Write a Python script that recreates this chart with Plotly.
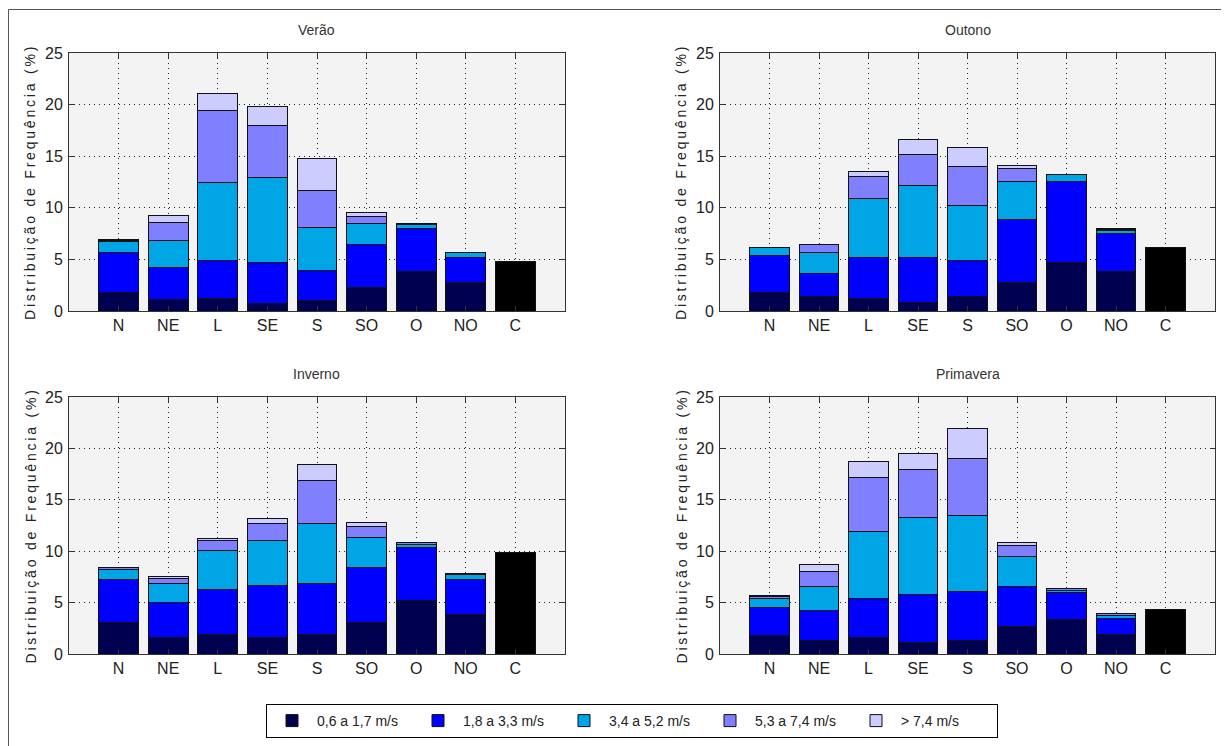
import plotly.graph_objects as go

# ---------------- data ----------------
categories = ["N", "NE", "L", "SE", "S", "SO", "O", "NO", "C"]
directions = categories[:8]
speed_classes = ["0,6 a 1,7 m/s", "1,8 a 3,3 m/s", "3,4 a 5,2 m/s", "5,3 a 7,4 m/s", "> 7,4 m/s"]
season_titles = ["Verão", "Outono", "Inverno", "Primavera"]

verao_c1 = [1.80, 1.10, 1.26, 0.77, 1.03, 2.29, 3.84, 2.74]
verao_c2 = [3.88, 3.16, 3.64, 3.97, 2.94, 4.16, 4.16, 2.45]
verao_c3 = [1.03, 2.61, 7.52, 8.20, 4.13, 2.00, 0.42, 0.44]
verao_c4 = [0.15, 1.71, 6.97, 5.03, 3.55, 0.71, 0.05, 0.05]
verao_c5 = [0.08, 0.65, 1.67, 1.87, 3.09, 0.39, 0.02, 0.02]
verao_calm = 4.80

outono_c1 = [1.81, 1.39, 1.23, 0.87, 1.39, 2.74, 4.74, 3.84]
outono_c2 = [3.54, 2.26, 3.93, 4.29, 3.48, 6.16, 7.84, 3.68]
outono_c3 = [0.80, 2.00, 5.71, 6.97, 5.39, 3.68, 0.60, 0.25]
outono_c4 = [0.02, 0.80, 2.19, 3.06, 3.71, 1.23, 0.03, 0.15]
outono_c5 = [0.00, 0.03, 0.46, 1.42, 1.87, 0.32, 0.02, 0.08]
outono_calm = 6.16

inverno_c1 = [3.03, 1.65, 1.94, 1.65, 1.94, 3.03, 5.23, 3.81]
inverno_c2 = [4.26, 3.38, 4.29, 5.06, 4.90, 5.39, 5.16, 3.48]
inverno_c3 = [0.94, 1.81, 3.87, 4.29, 5.87, 2.90, 0.22, 0.45]
inverno_c4 = [0.15, 0.50, 0.90, 1.68, 4.19, 1.07, 0.20, 0.05]
inverno_c5 = [0.07, 0.20, 0.20, 0.55, 1.55, 0.38, 0.06, 0.02]
inverno_calm = 9.87

primavera_c1 = [1.77, 1.32, 1.61, 1.16, 1.35, 2.68, 3.35, 1.94]
primavera_c2 = [2.75, 2.94, 3.81, 4.61, 4.75, 3.87, 2.59, 1.51]
primavera_c3 = [0.87, 2.26, 6.52, 7.55, 7.38, 2.90, 0.22, 0.29]
primavera_c4 = [0.20, 1.54, 5.22, 4.62, 5.52, 1.10, 0.20, 0.16]
primavera_c5 = [0.06, 0.68, 1.58, 1.54, 2.94, 0.32, 0.06, 0.07]
primavera_calm = 4.29

seasons = [
    [verao_c1, verao_c2, verao_c3, verao_c4, verao_c5],
    [outono_c1, outono_c2, outono_c3, outono_c4, outono_c5],
    [inverno_c1, inverno_c2, inverno_c3, inverno_c4, inverno_c5],
    [primavera_c1, primavera_c2, primavera_c3, primavera_c4, primavera_c5],
]
calms = [verao_calm, outono_calm, inverno_calm, primavera_calm]

# ---------------- style ----------------
colors = ["#000050", "#0000FF", "#00A5E5", "#8080FF", "#CCCCFF"]
calm_color = "#000000"
W, H = 1229, 746
OFF = 8  # page body margin of the browser, compensated in layout positions
TICKFONT = "Liberation Sans Narrow, Arial Narrow, Liberation Sans, Arial, sans-serif"

# axes boxes in screen pixels (left, right, top, bottom)
boxes = [(69, 565, 53, 311), (720, 1215, 53, 311), (69, 565, 397, 654), (720, 1215, 397, 654)]


def px(x):
    return (x - OFF) / W


def py(y):
    return 1 - (y - OFF) / H


fig = go.Figure()

for i, (vals, calm) in enumerate(zip(seasons, calms)):
    xa = "x" if i == 0 else f"x{i+1}"
    ya = "y" if i == 0 else f"y{i+1}"
    for k, (name, col) in enumerate(zip(speed_classes, colors)):
        fig.add_trace(go.Bar(
            x=directions, y=vals[k], name=name, marker_color=col,
            marker_line=dict(color="#111111", width=1), width=0.8,
            legendgroup=name, showlegend=(i == 0), xaxis=xa, yaxis=ya,
        ))
    fig.add_trace(go.Bar(
        x=[categories[8]], y=[calm], name="Calmaria", marker_color=calm_color,
        marker_line=dict(color="#111111", width=1), width=0.8,
        showlegend=False, xaxis=xa, yaxis=ya,
    ))

axis_common = dict(
    showline=True, linecolor="#333333", linewidth=1, mirror="ticks",
    ticks="inside", ticklen=5, tickcolor="#333333",
    showgrid=True, gridcolor="#222222", gridwidth=1, griddash="1px,4px",
    zeroline=False, tickfont=dict(family=TICKFONT, size=16, color="#222222"),
    automargin=False,
)

annotations = []
for i, (l, r, t, b) in enumerate(boxes):
    sfx = "" if i == 0 else str(i + 1)
    fig.layout[f"xaxis{sfx}"] = dict(
        axis_common, domain=[px(l), px(r)], anchor=f"y{sfx}",
        type="category", categoryorder="array", categoryarray=categories,
        range=[-1, 9], tickvals=categories, ticktext=categories,
    )
    fig.layout[f"yaxis{sfx}"] = dict(
        axis_common, domain=[py(b), py(t)], anchor=f"x{sfx}",
        range=[0, 25], dtick=5, tickvals=[0, 5, 10, 15, 20, 25],
        ticklabelstandoff=2,
    )
    annotations.append(dict(
        text=season_titles[i], xref="paper", yref="paper",
        x=px((l + r) / 2), y=py(t - 23), xanchor="center", yanchor="middle",
        showarrow=False, font=dict(family=TICKFONT, size=14, color="#333333"),
    ))
    annotations.append(dict(
        text='<span style="letter-spacing:2.8px">Distribuição de Frequência (%)</span>',
        xref="paper", yref="paper", x=px(l - 39), y=py((t + b) / 2),
        xanchor="center", yanchor="middle", textangle=-90, showarrow=False,
        font=dict(family="Liberation Sans, Arial, sans-serif", size=14, color="#222222"),
    ))

fig.update_layout(
    width=W, height=H, autosize=False,
    margin=dict(l=0, r=0, t=0, b=0, pad=0, autoexpand=False),
    paper_bgcolor="white", plot_bgcolor="#F3F3F3",
    barmode="stack", bargap=0.2,
    annotations=annotations,
    legend=dict(
        orientation="h", x=px(632), xanchor="center", y=py(721), yanchor="middle",
        bordercolor="#000000", borderwidth=1, bgcolor="white",
        font=dict(family=TICKFONT, size=14, color="#222222"),
        traceorder="normal", entrywidth=91, itemwidth=40,
    ),
    shapes=[dict(
        type="rect", xref="paper", yref="paper",
        x0=px(8.5), x1=px(1226), y0=-0.05, y1=py(9.5),
        line=dict(color="#555555", width=1), fillcolor="rgba(0,0,0,0)", layer="below",
    )],
)

fig.write_html("out.html")
